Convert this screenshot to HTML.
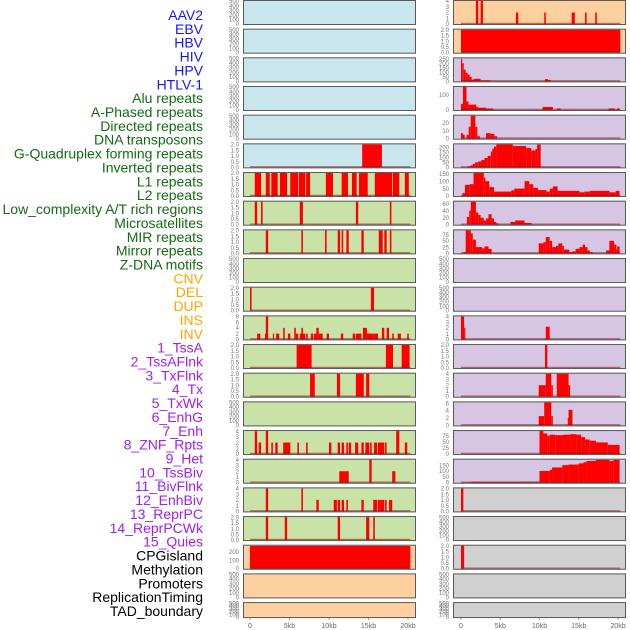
<!DOCTYPE html>
<html><head><meta charset="utf-8">
<style>
html,body{margin:0;padding:0;background:#fff;}
svg{display:block;font-family:"Liberation Sans",sans-serif;}
</style></head>
<body>
<svg id="chart" width="630" height="630" viewBox="0 0 630 630" xmlns="http://www.w3.org/2000/svg"></svg>
<script>
// ---------- data ----------
const trackLabels = ["AAV2","EBV","HBV","HIV","HPV","HTLV-1","Alu repeats","A-Phased repeats","Directed repeats","DNA transposons","G-Quadruplex forming repeats","Inverted repeats","L1 repeats","L2 repeats","Low_complexity A/T rich regions","Microsatellites","MIR repeats","Mirror repeats","Z-DNA motifs","CNV","DEL","DUP","INS","INV","1_TssA","2_TssAFlnk","3_TxFlnk","4_Tx","5_TxWk","6_EnhG","7_Enh","8_ZNF_Rpts","9_Het","10_TssBiv","11_BivFlnk","12_EnhBiv","13_ReprPC","14_ReprPCWk","15_Quies","CPGisland","Methylation","Promoters","ReplicationTiming","TAD_boundary"];
const labelGroups = ["virus","virus","virus","virus","virus","virus","repeat","repeat","repeat","repeat","repeat","repeat","repeat","repeat","repeat","repeat","repeat","repeat","repeat","sv","sv","sv","sv","sv","chromhmm","chromhmm","chromhmm","chromhmm","chromhmm","chromhmm","chromhmm","chromhmm","chromhmm","chromhmm","chromhmm","chromhmm","chromhmm","chromhmm","chromhmm","other","other","other","other","other"];
const xTickValues = [0,5,10,15,20];
const xTickLabels = ["0","5kb","10kb","15kb","20kb"];

const ticksEmpty = [0,100,200,300,400,500];
const ticks2 = [0.0,0.5,1.0,1.5,2.0];
const ticks4 = [0,1,2,3,4];

// left column panels: background, yMax, ticks, segments [startKb,endKb,value]
const leftBackgrounds = ["blue","blue","blue","blue","blue","blue","green","green","green","green","green","green","green","green","green","green","green","green","green","orange","orange","orange"];
const leftYMax = [500,500,500,500,500,2,2,2,2,500,2,8,2,2,500,4,4,4,2,275,500,500];
const leftTicks = [ticksEmpty,ticksEmpty,ticksEmpty,ticksEmpty,ticksEmpty,ticks2,ticks2,ticks2,ticks2,ticksEmpty,ticks2,[0,2,4,6,8],ticks2,ticks2,ticksEmpty,ticks4,ticks4,ticks4,ticks2,[0,100,200],ticksEmpty,ticksEmpty];
const leftSeg5 = [[14.2,16.7,2]];
const leftSeg6 = [[0.6,1.4,2],[2.0,2.5,2],[2.7,3.5,2],[3.8,4.7,2],[5.1,6.1,2],[6.2,7.0,2],[7.1,7.6,2],[9.6,10.5,2],[11.6,12.4,2],[12.9,13.5,2],[13.8,14.9,2],[15.8,18.0,2],[18.1,18.9,2],[19.6,20.1,2]];
const leftSeg7 = [[0.6,0.9,2],[1.4,1.6,2],[6.3,6.7,2],[13.4,13.7,2],[17.7,17.9,2]];
const leftSeg8 = [[2.0,2.3,2],[6.5,6.7,2],[9.5,9.7,2],[11.1,11.4,2],[11.6,11.8,2],[12.2,12.5,2],[14.1,14.4,2],[16.3,16.8,2],[17.0,17.3,2],[17.7,17.9,2]];
const leftSeg10 = [[0,0.2,2],[15.3,15.7,2]];
const leftSeg11 = [[0.9,1.3,2],[1.9,2.2,2],[2.0,2.3,8],[2.9,3.0,2],[3.3,3.7,2],[4.2,4.4,4],[4.8,5.1,2],[5.6,5.8,4],[5.8,6.1,2],[6.3,7.0,2],[6.5,6.7,4],[7.1,7.3,2],[7.7,8.0,2],[8.1,8.4,2],[8.4,8.7,4],[8.7,9.2,2],[9.7,10.0,2],[11.5,11.8,2],[13.0,13.3,2],[13.4,14.1,2],[14.3,14.8,4],[14.8,15.6,2],[15.6,16.2,2],[16.7,17.0,4],[17.3,17.6,4],[18.0,18.2,2],[18.7,19.1,2],[19.9,20.1,2]];
const leftSeg12 = [[5.9,7.8,2],[17.2,18.1,2],[19.2,20.2,2]];
const leftSeg13 = [[7.6,8.2,2],[11.0,11.4,2],[13.4,14.4,2],[14.7,15.1,2]];
const leftSeg15 = [[0.6,0.9,4],[1.1,1.4,2],[2.0,2.3,4],[2.7,2.9,2],[3.2,3.5,2],[4.2,5.1,2],[6.0,6.2,2],[7.1,7.3,2],[10.0,10.3,2],[11.1,11.4,2],[11.6,11.9,2],[12.2,12.4,2],[12.5,12.8,2],[13.3,13.7,2],[14.1,14.4,2],[14.6,15.1,2],[15.2,15.4,2],[15.7,16.1,2],[16.2,17.0,2],[17.1,17.3,2],[18.5,18.9,4],[19.6,19.9,2]];
const leftSeg16 = [[11.3,12.5,2],[15.1,15.4,4],[18.0,18.4,2]];
const leftSeg17 = [[2.0,2.3,4],[6.5,6.7,4],[8.4,8.7,2],[10.6,11.0,2],[11.1,11.4,2],[11.6,11.9,2],[12.2,12.4,2],[14.1,14.4,2],[15.6,16.1,2],[16.2,16.5,2],[16.5,17.0,2],[17.1,17.3,2],[17.6,18.0,2]];
const leftSeg18 = [[2.0,2.3,2],[4.4,4.7,2],[11.1,11.4,2],[14.7,15.1,2],[15.6,15.8,2]];
const leftSeg19 = [[0,20.3,272]];
const leftSegments = [null,null,null,null,null,leftSeg5,leftSeg6,leftSeg7,leftSeg8,null,leftSeg10,leftSeg11,leftSeg12,leftSeg13,null,leftSeg15,leftSeg16,leftSeg17,leftSeg18,leftSeg19,null,null];

// right column panels
const rightBackgrounds = ["orange","orange","purple","purple","purple","purple","purple","purple","purple","purple","purple","purple","purple","purple","purple","purple","purple","gray","gray","gray","gray","gray"];
const rightYMax = [4,2,255,150,29,232,155,66,92,500,500,4,2,4,6.2,95,196,2,500,2,500,500];
const rightTicks = [ticks4,ticks2,[0,50,100,150,200,250],[0,100],[0,10,20],[0,50,100,150,200],[0,50,100,150],[0,20,40,60],[0,25,50,75],ticksEmpty,ticksEmpty,ticks4,ticks2,ticks4,[0,2,4,6],[0,25,50,75],[0,50,100,150],ticks2,ticksEmpty,ticks2,ticksEmpty,ticksEmpty];
const rightSeg0 = [[1.9,2.2,4],[2.5,2.8,4],[7.0,7.3,2],[10.6,10.8,2],[14.1,14.5,2],[15.8,16.0,2],[17.1,17.3,2]];
const rightSeg1 = [[0,20.3,2]];
const rightSeg2 = [[0,0.15,250],[0.15,0.35,200],[0.35,0.6,130],[0.6,0.85,95],[0.85,1.1,75],[1.1,1.35,50],[1.35,1.65,20],[1.65,2.5,28],[2.5,3.8,10],[10.7,11.1,25],[11.1,11.4,15]];
const rightSeg3 = [[0,0.25,40],[0.25,0.7,150],[0.7,0.95,55],[0.95,1.96,35],[1.96,2.2,20],[2.2,3.2,15],[3.2,4.1,10],[10.4,11.7,20],[12.2,12.7,10],[18.8,19.6,10],[19.9,20.2,10]];
const rightSeg4 = [[0,0.25,7],[0.25,0.47,5],[0.72,0.98,5],[0.98,1.23,15],[1.23,1.83,29],[1.83,2.08,15],[2.08,2.42,3],[3.2,3.8,7],[3.8,4.25,6],[4.25,4.6,3]];
const rightSeg5 = [[0.85,1.2,10],[1.2,1.5,20],[1.5,1.8,35],[1.8,2.2,50],[2.2,2.6,60],[2.6,3.0,75],[3.0,3.4,95],[3.4,3.8,115],[3.8,4.0,160],[4.0,4.2,190],[4.2,4.5,210],[4.5,6.6,232],[6.6,8.3,215],[8.3,8.95,195],[8.95,9.5,170],[9.5,9.7,185],[9.7,10.15,230]];
const rightSeg6 = [[0.2,0.5,20],[0.5,1.1,75],[1.1,1.6,80],[1.6,2.9,155],[2.9,3.1,125],[3.1,3.6,100],[3.6,4.2,60],[4.2,6.4,30],[6.4,6.8,38],[6.8,8.1,50],[8.1,8.7,100],[8.7,9.2,80],[9.2,9.8,55],[9.8,10.9,40],[10.9,11.3,30],[11.3,11.7,50],[11.7,12.3,65],[12.3,15.1,35],[15.1,15.7,25],[15.7,16.4,30],[16.4,18.9,35],[18.9,19.7,25],[19.7,20.2,35]];
const rightSeg7 = [[0.75,1.05,22],[1.05,1.25,40],[1.25,1.9,66],[1.9,2.2,35],[2.2,2.5,28],[2.5,2.9,20],[2.9,3.2,12],[3.2,3.5,18],[3.5,3.9,30],[3.9,4.2,18],[4.2,4.5,8],[4.5,4.8,4],[6.3,6.9,8],[6.9,8.1,12],[8.1,9.0,5]];
const rightSeg8 = [[0.3,0.6,5],[0.6,1.25,92],[1.25,1.5,80],[1.5,1.9,55],[1.9,2.7,25],[2.7,3.0,20],[3.0,3.5,28],[3.5,3.9,18],[9.9,10.5,40],[10.5,10.8,45],[10.8,11.3,65],[11.3,11.6,50],[11.6,12.1,25],[12.1,12.4,30],[12.4,12.9,40],[12.9,13.1,30],[13.1,13.8,15],[13.8,14.2,5],[14.2,14.6,8],[14.6,15.1,18],[15.1,15.5,25],[15.5,15.8,35],[15.8,16.1,25],[16.1,16.4,12],[16.4,16.8,5],[18.5,18.9,12],[18.9,19.5,50],[19.5,19.8,35],[19.8,19.9,15],[19.9,20.2,28]];
const rightSeg11 = [[0,0.4,4],[0.4,0.55,2],[10.8,11.3,2.2]];
const rightSeg12 = [[10.7,11.0,2]];
const rightSeg13 = [[9.9,10.8,2],[10.8,11.5,4],[11.5,11.7,2],[12.2,13.7,4],[13.7,13.9,2]];
const rightSeg14 = [[9.9,10.6,2.5],[10.6,11.5,6.2],[11.5,11.7,2.5],[13.6,13.7,2],[13.7,14.2,4.2]];
const rightSeg15 = [[10.0,10.5,95],[10.5,11.0,85],[11.0,11.3,75],[11.3,12.0,80],[12.0,13.0,78],[13.0,13.9,80],[13.9,14.7,82],[14.7,15.3,80],[15.3,15.8,70],[15.8,16.4,60],[16.4,17.2,55],[17.2,18.7,48],[18.7,20.2,38]];
const rightSeg16 = [[0,1.2,2],[1.2,10.0,8],[10.0,11.3,100],[11.3,11.6,110],[11.6,12.9,130],[12.9,13.7,150],[13.7,15.0,155],[15.0,15.6,165],[15.6,16.0,175],[16.0,17.2,185],[17.2,18.9,195],[18.9,19.4,185],[19.4,20.2,195]];
const rightSeg17 = [[0,0.3,2]];
const rightSeg19 = [[0,0.4,2]];
const rightSegments = [rightSeg0,rightSeg1,rightSeg2,rightSeg3,rightSeg4,rightSeg5,rightSeg6,rightSeg7,rightSeg8,null,null,rightSeg11,rightSeg12,rightSeg13,rightSeg14,rightSeg15,rightSeg16,rightSeg17,null,rightSeg19,null,null];

// ---------- rendering ----------
const NS = "http://www.w3.org/2000/svg";
const svg = document.getElementById("chart");
const bgColors = {blue:"#c9e5ee",green:"#c9e2a7",orange:"#ffd09f",purple:"#d6c6e3",gray:"#d0d0d0"};
const labelColors = {virus:"#1515ff",repeat:"#136b13",sv:"#ffa500",chromhmm:"#a020f0",other:"#000000"};
const columns = [
  {left:243,right:416,zeroPx:250,twentyPx:408,bg:leftBackgrounds,ymax:leftYMax,ticks:leftTicks,segs:leftSegments,name:"left"},
  {left:453,right:626,zeroPx:461,twentyPx:618,bg:rightBackgrounds,ymax:rightYMax,ticks:rightTicks,segs:rightSegments,name:"right"}
];
const rowStep = 28.67;
function rowTop(i){return i*rowStep;}
function rowHeight(i){return i===21?16:25;}
function el(tag, attrs){const e=document.createElementNS(NS,tag);for(const k in attrs)e.setAttribute(k,attrs[k]);return e;}
function fmtTick(v, ticks){return ticks.some(t=>t%1!==0) || (ticks[ticks.length-1]===2 && ticks.length===5) ? v.toFixed(1) : String(v);}

// labels
trackLabels.forEach((lab,i)=>{
  const t = el("text",{x:203,y:15+i*13.86+5,"text-anchor":"end","font-size":"14",fill:labelColors[labelGroups[i]]});
  
  
  t.textContent = lab;
  svg.appendChild(t);
});

columns.forEach(col=>{
  const xs = kb => col.zeroPx + (kb/20)*(col.twentyPx-col.zeroPx);
  for(let i=0;i<22;i++){
    const top=rowTop(i), h=rowHeight(i), bottom=top+h;
    const ymax=col.ymax[i];
    const ys = v => (bottom-1) - (v/ymax)*(h-2);
    const g = el("g",{});
    
    
    const bg = el("rect",{x:col.left,y:top,width:col.right-col.left,height:h,fill:bgColors[col.bg[i]]});
    
    
    g.appendChild(bg);
    const segs = col.segs[i];
    if(segs){
      segs.forEach(s=>{
        const v=Math.min(s[2],ymax);
        const r = el("rect",{x:xs(s[0]),y:ys(v),width:Math.max(1.2,xs(s[1])-xs(s[0])),height:(bottom-1)-ys(v),fill:"#ff0000"});
        
        
        g.appendChild(r);
      });
      const bl = el("line",{x1:xs(0),x2:xs(20.3),y1:bottom-1.5,y2:bottom-1.5,stroke:"rgba(140,20,20,0.55)","stroke-width":"1.5"});
      
      
      g.appendChild(bl);
    }
    const border = el("rect",{x:col.left+0.5,y:top+0.5,width:col.right-col.left-1,height:h-1,fill:"none",stroke:"#5a5a5a","stroke-width":"1"});
    
    
    g.appendChild(border);
    const tks = col.ticks[i];
    const dec = tks.some(t=>t%1!==0);
    tks.forEach(tv=>{
      const ty = ys(tv);
      const t = el("text",{x:col.left-4,y:Math.min(ty+2.2,bottom+1),"text-anchor":"end","font-size":"6",fill:"#777"});
      
      
      t.textContent = dec ? tv.toFixed(1) : String(tv);
      g.appendChild(t);
    });
    svg.appendChild(g);
  }
  xTickValues.forEach((v,j)=>{
    const x = xs(v);
    const tm = el("line",{x1:x,x2:x,y1:618,y2:620,stroke:"#888","stroke-width":"0.8"});
    
    
    svg.appendChild(tm);
    const t = el("text",{x:x,y:628,"text-anchor":"middle","font-size":"7",fill:"#666"});
    
    
    t.textContent = xTickLabels[j];
    svg.appendChild(t);
  });
});
</script>
</body></html>
